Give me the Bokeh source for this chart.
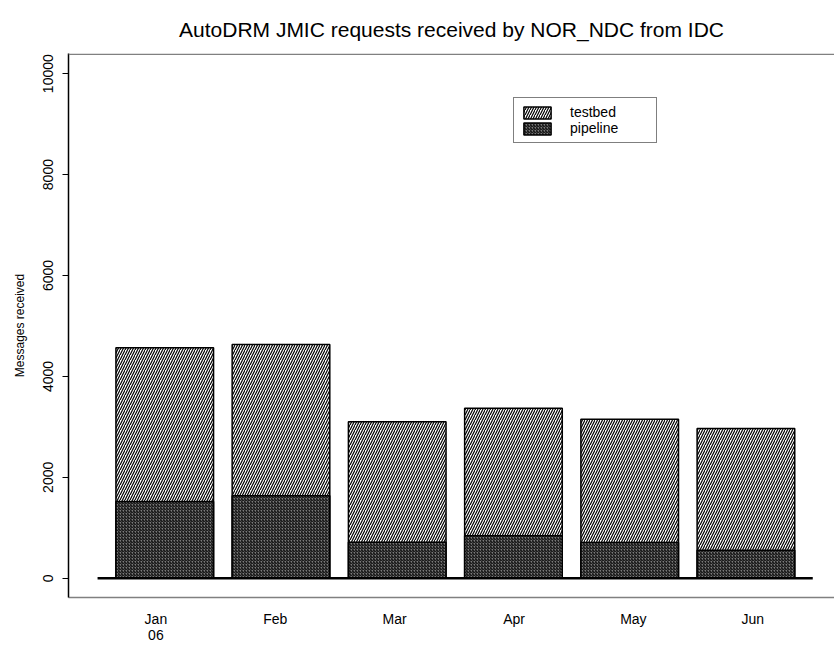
from bokeh.plotting import figure
from bokeh.models import (ColumnDataSource, FixedTicker, CustomJSTickFormatter, Span,
                          Legend, LegendItem, Range1d)
from bokeh.embed import file_html
from bokeh.resources import INLINE

months = ["Jan", "Feb", "Mar", "Apr", "May", "Jun"]
tick_labels = ["Jan\n06", "Feb", "Mar", "Apr", "May", "Jun"]
total = [4570, 4630, 3100, 3370, 3150, 2970]
pipeline = [1520, 1635, 715, 840, 710, 555]
testbed = [t - p for t, p in zip(total, pipeline)]
y_ticks = [0, 2000, 4000, 6000, 8000, 10000]
title_text = "AutoDRM JMIC requests received by NOR_NDC from IDC"

FONT = "Liberation Sans"
Y_BOT, Y_TOP = -382, 10400
X_LO, X_HI = -0.828, 5.762
xs = list(range(len(months)))
src = ColumnDataSource(dict(x=xs, total=total, pipeline=pipeline, testbed=testbed))

p = figure(width=834, height=645, output_backend="svg", toolbar_location=None,
           x_range=Range1d(X_LO, X_HI), y_range=Range1d(Y_BOT, Y_TOP),
           min_border_left=68, min_border_right=0, min_border_top=53, min_border_bottom=48,
           title=title_text)
p.outline_line_color = None
p.grid.visible = False
p.background_fill_color = "white"

p.title.align = "center"
p.title.offset = -6
p.title.standoff = 25
p.title.text_font = FONT
p.title.text_font_size = "21px"
p.title.text_font_style = "normal"
p.title.text_color = "black"

# bars: testbed drawn to total, pipeline over it
r_test = p.vbar(x="x", top="total", bottom=0, width=0.84, source=src,
                fill_color="white", line_color="black", line_width=1.5,
                hatch_pattern="/", hatch_color="black", hatch_scale=5, hatch_weight=1.2)
r_pipe = p.vbar(x="x", top="pipeline", bottom=0, width=0.84, source=src,
                fill_color="#7a7a7a", line_color="black", line_width=1.5,
                hatch_pattern="/", hatch_color="black", hatch_scale=3, hatch_weight=1)
# baseline
p.segment(x0=[xs[0] - 0.578], x1=[xs[-1] + 0.575], y0=[0], y1=[0], line_color="black", line_width=2.5)

# top border line (just inside the frame top)
p.add_layout(Span(location=Y_TOP - 16, dimension="width", line_color="#808080", line_width=1.5))

# y axis
ya = p.yaxis[0]
ya.ticker = FixedTicker(ticks=y_ticks)
ya.major_label_orientation = "vertical"
ya.major_tick_out = 6
ya.major_tick_in = 0
ya.minor_tick_line_color = None
ya.axis_line_color = "black"
ya.axis_line_width = 1.5
ya.major_tick_line_width = 1
ya.major_label_text_font = FONT
ya.major_label_text_font_size = "14px"
ya.major_label_text_color = "black"
ya.major_label_standoff = 9
ya.axis_label = "Messages received"
ya.axis_label_text_font = FONT
ya.axis_label_text_font_size = "12px"
ya.axis_label_text_font_style = "normal"
ya.axis_label_text_color = "black"
ya.axis_label_standoff = 14

# x axis
xa = p.xaxis[0]
xa.ticker = FixedTicker(ticks=[i * 1.027 - 0.076 for i in xs])
xa.formatter = CustomJSTickFormatter(args=dict(labels=tick_labels), code="return labels[index];")
xa.major_tick_line_color = None
xa.major_tick_out = 0
xa.major_tick_in = 0
xa.minor_tick_line_color = None
xa.axis_line_color = "#808080"
xa.axis_line_width = 1.5
xa.major_label_text_font = FONT
xa.major_label_text_font_size = "14px"
xa.major_label_text_color = "black"
xa.major_label_text_line_height = 1.0
xa.major_label_standoff = 13

legend = Legend(items=[LegendItem(label="testbed", renderers=[r_test]),
                       LegendItem(label="pipeline", renderers=[r_pipe])],
                location=(445, 454), padding=6, spacing=0, glyph_width=34, glyph_height=15,
                label_standoff=16, label_width=80, label_text_font=FONT,
                label_text_font_size="14px", label_height=15, label_text_color="black",
                border_line_color="black", border_line_width=1, background_fill_alpha=1,
                margin=0)
p.add_layout(legend)

open("out.html", "w").write(file_html(p, INLINE))
